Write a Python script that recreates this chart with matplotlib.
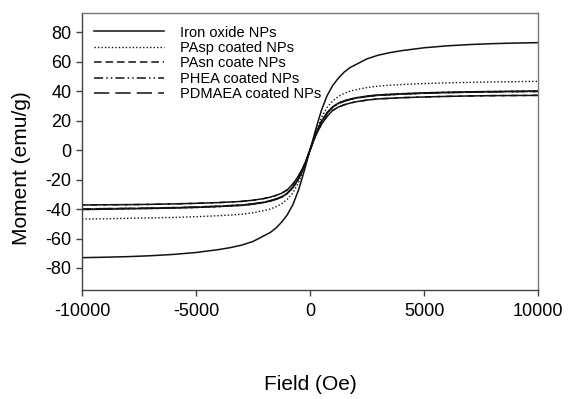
import matplotlib
matplotlib.use("Agg")
import matplotlib.pyplot as plt

plt.rcParams['font.family'] = ['Liberation Sans', 'DejaVu Sans']
plt.rcParams['axes.unicode_minus'] = False

field = [-10000, -9000, -8000, -7000, -6000, -5000, -4000, -3500, -3000, -2500, -2000,
         -1750, -1500, -1250, -1000, -750, -500, -250, 0, 250, 500, 750, 1000, 1250,
         1500, 1750, 2000, 2500, 3000, 3500, 4000, 5000, 6000, 7000, 8000, 9000, 10000]

iron = [-73.0, -72.7, -72.3, -71.7, -70.8, -69.5, -67.5, -66.2, -64.5, -62.0, -58.0,
        -56.0, -53.0, -49.0, -44.0, -37.0, -27.0, -14.0, 0.0, 14.0, 27.0, 37.0, 44.0, 49.0,
        53.0, 56.0, 58.0, 62.0, 64.5, 66.2, 67.5, 69.5, 70.8, 71.7, 72.3, 72.7, 73.0]
pasp = [-46.8, -46.6, -46.3, -46.0, -45.7, -45.2, -44.5, -44.1, -43.5, -42.5, -41.0,
        -40.0, -38.5, -36.5, -33.5, -29.0, -22.0, -12.0, 0.0, 12.0, 22.0, 29.0, 33.5, 36.5,
        38.5, 40.0, 41.0, 42.5, 43.5, 44.1, 44.5, 45.2, 45.7, 46.0, 46.3, 46.5, 46.7]
pasn = [-40.3, -40.1, -39.8, -39.6, -39.3, -38.9, -38.3, -37.9, -37.5, -36.7, -35.5,
        -34.6, -33.5, -32.0, -29.5, -25.5, -19.5, -11.0, 0.0, 11.0, 19.5, 25.5, 29.5, 32.0,
        33.5, 34.6, 35.5, 36.7, 37.5, 37.9, 38.3, 38.9, 39.3, 39.6, 39.8, 40.0, 40.2]
phea = [-39.9, -39.7, -39.5, -39.3, -39.0, -38.6, -38.0, -37.6, -37.2, -36.4, -35.2,
        -34.3, -33.2, -31.6, -29.2, -25.2, -19.2, -10.8, 0.0, 10.8, 19.2, 25.2, 29.2, 31.6,
        33.2, 34.3, 35.2, 36.4, 37.2, 37.6, 38.0, 38.6, 39.0, 39.3, 39.5, 39.7, 39.8]
pdmaea = [-37.2, -37.1, -37.0, -36.8, -36.5, -36.1, -35.6, -35.2, -34.8, -34.0, -32.8,
          -31.9, -30.8, -29.3, -27.0, -23.0, -17.5, -10.0, 0.0, 10.0, 17.5, 23.0, 27.0, 29.3,
          30.8, 31.9, 32.8, 34.0, 34.8, 35.2, 35.6, 36.1, 36.5, 36.8, 37.0, 37.1, 37.2]

labels = ["Iron oxide NPs", "PAsp coated NPs", "PAsn coate NPs",
          "PHEA coated NPs", "PDMAEA coated NPs"]
xticks = [-10000, -5000, 0, 5000, 10000]
yticks = [-80, -60, -40, -20, 0, 20, 40, 60, 80]

fig = plt.figure(figsize=(5.73, 3.99), dpi=100)
ax = fig.add_axes([0.143, 0.273, 0.796, 0.694])

lw = 1.1
c = '#111111'
ax.plot(field, iron, color=c, lw=lw, ls='-', label=labels[0])
ax.plot(field, pasp, color=c, lw=1.0, ls=(0, (1, 1.5)), label=labels[1])
styles = [(0, (5, 2.5)), (0, (6, 2, 1, 2, 1, 2)), (0, (10, 4))]
for vals, st, lab in zip([pasn, phea, pdmaea], styles, labels[2:]):
    ax.plot(field, vals, color=c, lw=lw, ls=st, label=lab)
    # return sweep of the loop fills the gaps of the dash pattern
    off = st[1][0] * 0.8
    ax.plot(field, vals, color=c, lw=lw, ls=(off, st[1]))

ax.set_xlim(-10000, 10000)
ax.set_ylim(-95, 93)
ax.set_xticks(xticks)
ax.set_yticks(yticks)
ax.tick_params(labelsize=13, direction='out', length=4, width=1, color='#444444',
               top=False, right=False)
ax.tick_params(axis='x', pad=5)
for s in ax.spines.values():
    s.set_color('#777777')
    s.set_linewidth(1.0)
ax.spines['left'].set_color('#444444')
ax.spines['bottom'].set_color('#444444')

ax.set_xlabel("Field (Oe)", fontsize=15)
ax.xaxis.set_label_coords(0.5, -0.305)
ax.set_ylabel("Moment (emu/g)", fontsize=15)
ax.yaxis.set_label_coords(-0.112, 0.44)

ax.legend(loc='upper left', frameon=False, fontsize=10.5, handlelength=4.8,
          handletextpad=1.1, labelspacing=0.1, borderaxespad=0.45,
          bbox_to_anchor=(0.0, 1.0))

fig.savefig("out.png", dpi=100)
